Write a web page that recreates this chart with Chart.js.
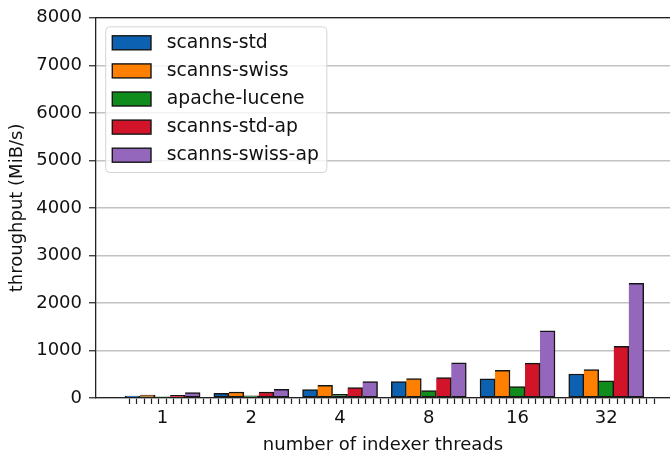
<!DOCTYPE html>
<html>
<head>
<meta charset="utf-8">
<script src="https://cdn.jsdelivr.net/npm/chart.js@4/dist/chart.umd.min.js"></script>
<style>
  html, body { margin: 0; padding: 0; background: #ffffff; }
  #wrap { width: 670px; height: 456px; }
</style>
</head>
<body>
<div id="wrap"><canvas id="chart" width="670" height="456"></canvas></div>
<script>
// Indexer throughput by thread count
const threadCounts = ['1', '2', '4', '8', '16', '32'];
const scannsStd     = [42, 97, 177, 345, 405, 505];
const scannsSwiss   = [62, 127, 265, 410, 580, 600];
const apacheLucene  = [25, 48, 78, 155, 238, 362];
const scannsStdAp   = [55, 127, 217, 432, 735, 1085];
const scannsSwissAp = [112, 182, 348, 740, 1415, 2415];
const yTicks = [0, 1000, 2000, 3000, 4000, 5000, 6000, 7000, 8000];

const seriesNames  = ['scanns-std', 'scanns-swiss', 'apache-lucene', 'scanns-std-ap', 'scanns-swiss-ap'];
const seriesValues = [scannsStd, scannsSwiss, apacheLucene, scannsStdAp, scannsSwissAp];
const seriesColors = ['#0c62b0', '#ff8000', '#108c1c', '#d2142a', '#9467bd'];

const TEXT = '#111111';
const SPINE = '#222222';
const FONT = 'DejaVu Sans';

Chart.defaults.font.family = FONT;
Chart.defaults.color = TEXT;

// x positions of the minor ticks: one at every bar centre and bar edge (twelfths of a group)
function minorTickValues() {
  const out = [];
  const last = (threadCounts.length - 1) * 12 + 6;
  for (let k = -4; k <= last; k++) out.push(k / 12);
  return out;
}

const datasets = seriesNames.map((name, s) => ({
  label: name,
  data: seriesValues[s].map((v, i) => ({ x: i, y: v })),
  backgroundColor: seriesColors[s],
  borderColor: '#151515',
  borderWidth: 1.5,
  // neighbouring bars share one outline
  borderSkipped: s === 0 ? false : 'left',
  barThickness: 15,
  xAxisID: 'x',
  yAxisID: 'y'
}));

// Framed legend drawn over the top-left of the plot
const boxedLegend = {
  id: 'boxedLegend',
  afterDraw(chart, args, opts) {
    const ctx = chart.ctx;
    const area = chart.chartArea;
    const fx = area.left + opts.frameX, fy = area.top + opts.frameY;
    ctx.save();
    ctx.font = opts.fontSize + 'px ' + FONT;
    let maxW = 0;
    chart.data.datasets.forEach(ds => { maxW = Math.max(maxW, ctx.measureText(ds.label).width); });
    const textX = area.left + opts.textX;
    const fw = textX + maxW + opts.rightPad - fx;
    const fh = opts.frameH;
    ctx.beginPath();
    ctx.roundRect(fx, fy, fw, fh, 4);
    ctx.fillStyle = 'rgba(255,255,255,0.8)';
    ctx.fill();
    ctx.lineWidth = 1;
    ctx.strokeStyle = '#d4d4d4';
    ctx.stroke();
    chart.data.datasets.forEach((ds, i) => {
      const cy = area.top + opts.firstRow + i * opts.rowStep;
      const sx = area.left + opts.swatchX;
      ctx.fillStyle = ds.backgroundColor;
      ctx.fillRect(sx, cy - opts.swatchH / 2, opts.swatchW, opts.swatchH);
      ctx.lineWidth = 1.4;
      ctx.strokeStyle = '#151515';
      ctx.strokeRect(sx, cy - opts.swatchH / 2, opts.swatchW, opts.swatchH);
      ctx.fillStyle = TEXT;
      ctx.textAlign = 'left';
      ctx.textBaseline = 'middle';
      ctx.fillText(ds.label, textX, cy);
    });
    ctx.restore();
  }
};

new Chart(document.getElementById('chart'), {
  type: 'bar',
  data: { datasets },
  plugins: [boxedLegend],
  options: {
    responsive: false,
    animation: false,
    layout: { padding: { left: 0, right: 0, top: 0, bottom: 0 } },
    plugins: {
      legend: { display: false },
      tooltip: { enabled: false },
      boxedLegend: {
        frameX: 9.7, frameY: 9, frameH: 145.7,
        swatchX: 16.3, swatchW: 38.7, swatchH: 14,
        textX: 70.7, rightPad: 8,
        firstRow: 25, rowStep: 28.1,
        fontSize: 18.8
      }
    },
    scales: {
      x: {
        type: 'linear',
        position: 'bottom',
        min: -0.705,
        max: 5.673,
        afterBuildTicks(scale) {
          scale.ticks = minorTickValues().map(v => ({ value: v }));
        },
        afterFit(scale) { scale.height = 58; },
        ticks: {
          autoSkip: false,
          maxRotation: 0,
          padding: 4,
          color: TEXT,
          font: { size: 18 },
          callback(value) {
            const r = Math.round(value);
            return Math.abs(value - r) < 1e-6 && threadCounts[r] !== undefined ? threadCounts[r] : '';
          }
        },
        grid: {
          display: true,
          drawOnChartArea: false,
          drawTicks: true,
          tickLength: 6,
          tickColor: SPINE,
          tickWidth: 1.2
        },
        border: { display: true, color: SPINE, width: 1.3 },
        title: {
          display: true,
          text: 'number of indexer threads',
          color: TEXT,
          font: { size: 18 },
          padding: { top: 0, bottom: 0 }
        }
      },
      xTop: {
        type: 'linear',
        position: 'top',
        afterFit(scale) { scale.height = 16; },
        ticks: { display: false },
        grid: { display: false },
        border: { display: true, color: SPINE, width: 1.3 }
      },
      y: {
        type: 'linear',
        position: 'left',
        min: 0,
        max: 8000,
        afterFit(scale) { scale.width = 96; },
        afterBuildTicks(scale) {
          scale.ticks = yTicks.map(v => ({ value: v }));
        },
        ticks: {
          padding: 7,
          color: TEXT,
          font: { size: 18 },
          callback(value) { return String(value); }
        },
        grid: {
          color: '#c2c2c2',
          lineWidth: 1.5,
          tickLength: 7,
          tickColor: SPINE,
          tickWidth: 1.2
        },
        border: { display: true, color: SPINE, width: 1.3 },
        title: {
          display: true,
          text: 'throughput (MiB/s)',
          color: TEXT,
          font: { size: 18 },
          padding: { top: 7, bottom: 0 }
        }
      }
    }
  }
});
</script>
</body>
</html>
